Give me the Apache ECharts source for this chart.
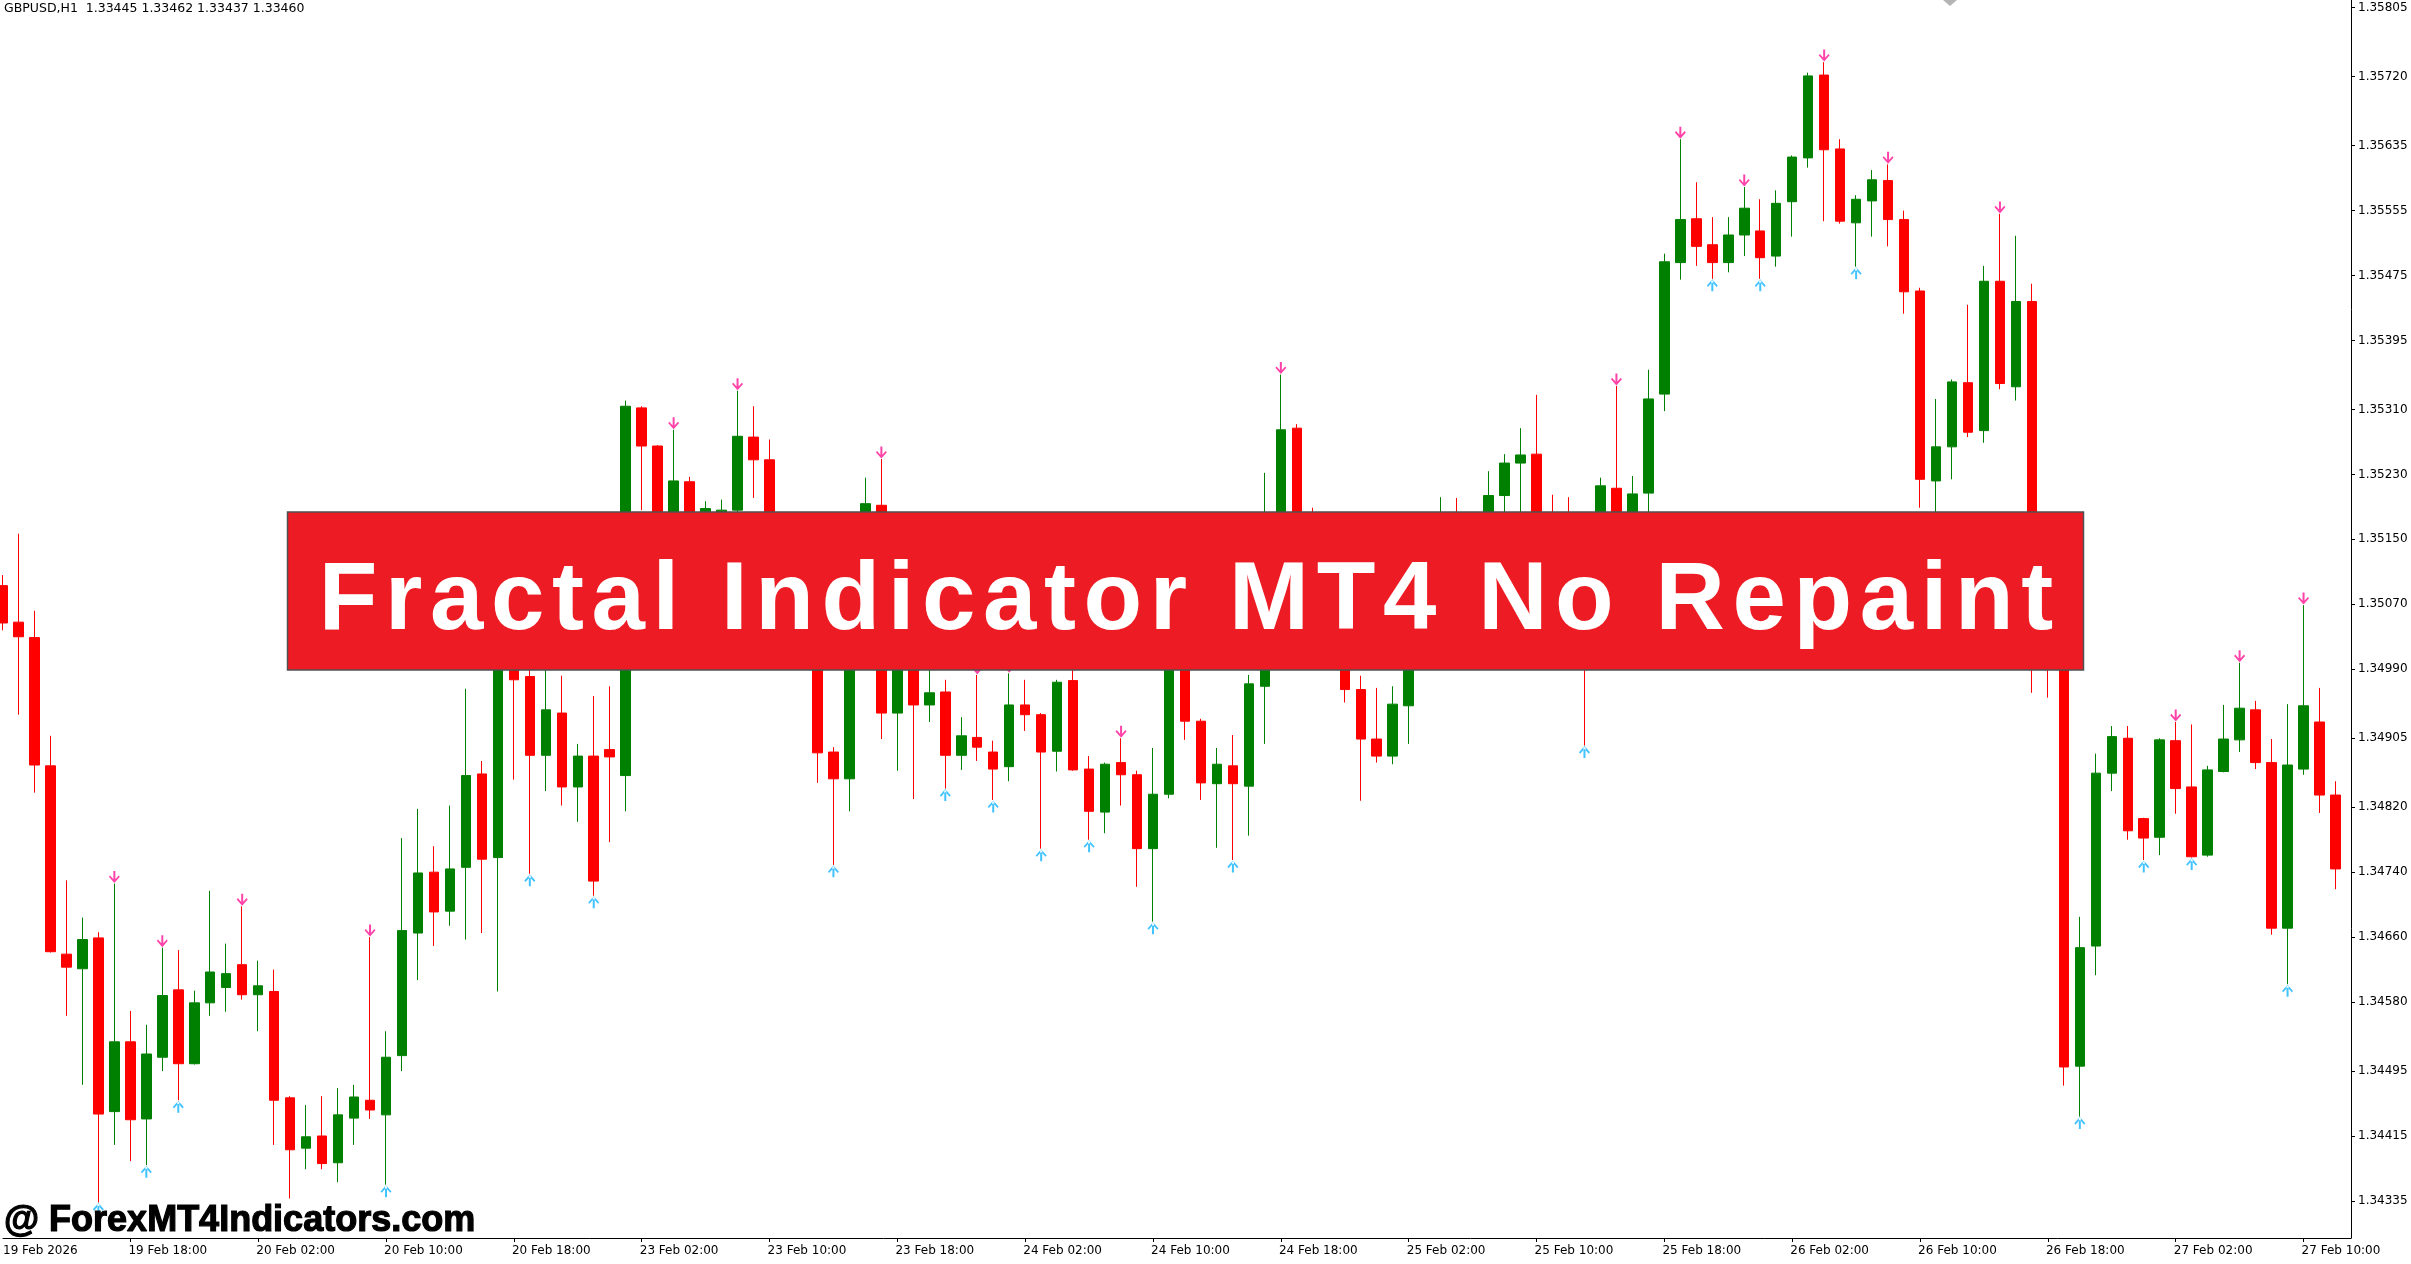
<!DOCTYPE html>
<html>
<head>
<meta charset="utf-8">
<script src="https://cdn.jsdelivr.net/npm/echarts@6/dist/echarts.min.js"></script>
<style>
html,body{margin:0;padding:0;background:#ffffff;}
#chart{width:2411px;height:1264px;}
</style>
</head>
<body>
<div id="chart"></div>
<script>
// ---------------- DATA ----------------
const headerText = 'GBPUSD,H1  1.33445 1.33462 1.33437 1.33460';
const bannerText = 'Fractal Indicator MT4 No Repaint';
const watermarkText = '@ ForexMT4Indicators.com';

// bar index of each time label, and the labels
const tickBars = [0, 8, 16, 24, 32, 40, 48, 56, 64, 72, 80, 88, 96, 104, 112, 120, 128, 136, 144];
const tickLabels = ['19 Feb 2026', '19 Feb 18:00', '20 Feb 02:00', '20 Feb 10:00', '20 Feb 18:00',
  '23 Feb 02:00', '23 Feb 10:00', '23 Feb 18:00', '24 Feb 02:00', '24 Feb 10:00', '24 Feb 18:00',
  '25 Feb 02:00', '25 Feb 10:00', '25 Feb 18:00', '26 Feb 02:00', '26 Feb 10:00', '26 Feb 18:00',
  '27 Feb 02:00', '27 Feb 10:00'];

// price scale labels, top to bottom
const priceLabels = ['1.35805', '1.35720', '1.35635', '1.35555', '1.35475', '1.35395', '1.35310',
  '1.35230', '1.35150', '1.35070', '1.34990', '1.34905', '1.34820', '1.34740', '1.34660', '1.34580',
  '1.34495', '1.34415', '1.34335'];

const opens = [1.35093,1.35048,1.35029,1.34871,1.34639,1.34621,1.34659,1.34445,1.34531,1.34436,
  1.34512,1.34595,1.34504,1.34579,1.34598,1.34626,1.34589,1.34593,1.34462,1.34400,
  1.34415,1.34382,1.34437,1.34459,1.34441,1.34514,1.34665,1.34740,1.34692,1.34746,
  1.34861,1.34758,1.35075,1.34981,1.34884,1.34936,1.34845,1.34883,1.34891,1.34859,
  1.35312,1.35265,1.35125,1.35221,1.35149,1.35174,1.35186,1.35276,1.35248,1.35125,
  1.35075,1.35100,1.34888,1.34855,1.35075,1.35192,1.34936,1.35026,1.34946,1.34962,
  1.34884,1.34906,1.34888,1.34870,1.34946,1.34934,1.34889,1.34976,1.34867,1.34814,
  1.34875,1.34860,1.34769,1.34836,1.35051,1.34926,1.34849,1.34871,1.34846,1.34969,
  1.35125,1.35287,1.35149,1.35075,1.35026,1.34965,1.34904,1.34883,1.34945,1.35051,
  1.35112,1.35149,1.35125,1.35162,1.35204,1.35244,1.35255,1.35125,1.35075,1.35051,
  1.35026,1.35213,1.35125,1.35207,1.35329,1.35491,1.35545,1.35513,1.35491,1.35525,
  1.35530,1.35499,1.35566,1.35620,1.35722,1.35631,1.35540,1.35567,1.35592,1.35544,
  1.35456,1.35222,1.35264,1.35343,1.35284,1.35468,1.35338,1.35443,1.35075,1.35026,
  1.34501,1.34649,1.34862,1.34905,1.34806,1.34783,1.34902,1.34845,1.34761,1.34864,
  1.34903,1.34940,1.34875,1.34671,1.34867,1.34925,1.34835];

const closes = [1.35047,1.35030,1.34872,1.34642,1.34623,1.34657,1.34442,1.34531,1.34435,1.34516,
  1.34588,1.34504,1.34579,1.34617,1.34615,1.34589,1.34600,1.34459,1.34398,1.34414,
  1.34381,1.34441,1.34463,1.34447,1.34512,1.34668,1.34739,1.34691,1.34744,1.34859,
  1.34756,1.35075,1.34977,1.34884,1.34940,1.34845,1.34883,1.34729,1.34882,1.35314,
  1.35265,1.35125,1.35222,1.35149,1.35188,1.35186,1.35277,1.35248,1.35125,1.35075,
  1.35100,1.34887,1.34855,1.35075,1.35194,1.34936,1.35026,1.34946,1.34961,1.34884,
  1.34908,1.34894,1.34867,1.34946,1.34934,1.34888,1.34974,1.34866,1.34815,1.34873,
  1.34860,1.34769,1.34836,1.35051,1.34926,1.34850,1.34873,1.34849,1.34972,1.35125,
  1.35285,1.35149,1.35075,1.35026,1.34965,1.34904,1.34883,1.34947,1.35051,1.35112,
  1.35149,1.35125,1.35162,1.35204,1.35244,1.35254,1.35125,1.35075,1.35051,1.35026,
  1.35216,1.35125,1.35206,1.35323,1.35492,1.35544,1.35511,1.35491,1.35525,1.35558,
  1.35497,1.35564,1.35621,1.35721,1.35630,1.35542,1.35569,1.35593,1.35544,1.35455,
  1.35224,1.35264,1.35344,1.35282,1.35468,1.35342,1.35443,1.35075,1.35026,1.34500,
  1.34647,1.34862,1.34907,1.34791,1.34782,1.34903,1.34843,1.34759,1.34866,1.34904,
  1.34942,1.34875,1.34671,1.34872,1.34945,1.34835,1.34744];

const lows = [1.35038,1.34934,1.34838,1.34641,1.34563,1.34478,1.34333,1.34404,1.34384,1.34379,
  1.34495,1.34459,1.34503,1.34563,1.34568,1.34583,1.34544,1.34404,1.34338,1.34374,
  1.34374,1.34358,1.34404,1.34436,1.34355,1.34495,1.34607,1.34649,1.34674,1.34657,
  1.34665,1.34593,1.34854,1.34738,1.34840,1.34822,1.34802,1.34711,1.34777,1.34815,
  1.35186,1.35100,1.35088,1.35125,1.35131,1.35149,1.35168,1.35201,1.35075,1.35026,
  1.35014,1.34850,1.34749,1.34815,1.35051,1.34904,1.34865,1.34830,1.34925,1.34843,
  1.34866,1.34877,1.34829,1.34852,1.34914,1.34769,1.34864,1.34865,1.34780,1.34788,
  1.34822,1.34722,1.34679,1.34831,1.34903,1.34829,1.34770,1.34755,1.34785,1.34898,
  1.35100,1.35125,1.35051,1.35001,1.34949,1.34828,1.34875,1.34873,1.34898,1.35038,
  1.35088,1.35075,1.35100,1.35143,1.35174,1.35168,1.35100,1.35051,1.35026,1.34896,
  1.35014,1.35100,1.35112,1.35174,1.35308,1.35470,1.35487,1.35471,1.35479,1.35499,
  1.35471,1.35486,1.35523,1.35608,1.35542,1.35539,1.35486,1.35523,1.35511,1.35428,
  1.35189,1.35162,1.35224,1.35276,1.35269,1.35335,1.35321,1.34961,1.34955,1.34477,
  1.34439,1.34613,1.34840,1.34780,1.34755,1.34761,1.34812,1.34758,1.34759,1.34863,
  1.34888,1.34867,1.34663,1.34602,1.34860,1.34813,1.34719];

const highs = [1.35106,1.35157,1.35062,1.34908,1.34730,1.34684,1.34666,1.34726,1.34569,1.34552,
  1.34647,1.34644,1.34594,1.34717,1.34652,1.34698,1.34631,1.34620,1.34464,1.34453,
  1.34464,1.34474,1.34478,1.34660,1.34544,1.34782,1.34818,1.34772,1.34822,1.34966,
  1.34877,1.35088,1.35088,1.35014,1.35026,1.34982,1.34898,1.34957,1.34969,1.35321,
  1.35314,1.35266,1.35285,1.35227,1.35197,1.35199,1.35333,1.35314,1.35273,1.35149,
  1.35125,1.35125,1.34894,1.35088,1.35226,1.35249,1.35051,1.35051,1.35001,1.34977,
  1.34931,1.34983,1.34902,1.34985,1.34977,1.34936,1.34977,1.35001,1.34883,1.34875,
  1.34905,1.34865,1.34893,1.35075,1.35075,1.34929,1.34893,1.34909,1.34983,1.35232,
  1.35353,1.35292,1.35189,1.35100,1.35051,1.34982,1.34967,1.34969,1.35075,1.35137,
  1.35202,1.35201,1.35180,1.35234,1.35255,1.35287,1.35328,1.35205,1.35202,1.35075,
  1.35226,1.35339,1.35228,1.35359,1.35502,1.35643,1.35590,1.35547,1.35547,1.35584,
  1.35569,1.35580,1.35623,1.35725,1.35738,1.35643,1.35574,1.35605,1.35612,1.35555,
  1.35460,1.35323,1.35347,1.35439,1.35487,1.35551,1.35524,1.35465,1.35100,1.35038,
  1.34685,1.34886,1.34920,1.34920,1.34807,1.34905,1.34925,1.34922,1.34871,1.34946,
  1.34998,1.34951,1.34904,1.34947,1.35069,1.34967,1.34852];

// bars carrying a fractal marker
const fractalDownBars = [7, 10, 15, 23, 42, 46, 55, 61, 63, 70, 80, 101, 105, 109, 114, 118, 125, 136, 140, 144];
const fractalUpBars = [6, 9, 11, 24, 33, 37, 52, 59, 62, 65, 68, 72, 77, 99, 107, 110, 116, 130, 134, 137, 143];

// ---------------- CHART ----------------
const chart = echarts.init(document.getElementById('chart'), null, {renderer: 'canvas'});

const candleData = opens.map((o, i) => [i, o, closes[i], lows[i], highs[i]]);
const downData = fractalDownBars.map(i => [i, highs[i]]);
const upData = fractalUpBars.map(i => [i, lows[i]]);

const xMin = 0.03125, xMax = 146.97;
const yMin = 1.342893, yMax = 1.358145;

const pricePos = priceLabels.map(s => parseFloat(s));
const xLabelPos = tickBars.map(b => Math.max(b - 0.12, xMin));

function nearestIndex(arr, v) {
  let best = 0, bd = Infinity;
  arr.forEach((a, k) => { const d = Math.abs(a - v); if (d < bd) { bd = d; best = k; } });
  return best;
}

const downPath = 'path://M4.5,0 L6.5,0 L6.5,10 L4.5,10 Z M0,5.2 L1.2,4 L5.5,8.4 L9.8,4 L11,5.2 L5.5,11 Z';
const upPath = 'path://M4.5,1 L6.5,1 L6.5,11 L4.5,11 Z M0,5.8 L1.2,7 L5.5,2.6 L9.8,7 L11,5.8 L5.5,0 Z';

const richBanner = bannerText.split('').map(ch => '{c|' + ch + '}').join('');

const option = {
  animation: false,
  backgroundColor: '#ffffff',
  grid: {left: 0, right: 60, top: 0, bottom: 26, containLabel: false},
  xAxis: {
    type: 'value', min: xMin, max: xMax,
    axisLine: {show: true, onZero: false, lineStyle: {color: '#000000', width: 1}},
    splitLine: {show: false},
    axisTick: {show: true, customValues: tickBars.slice(1), length: 4, lineStyle: {color: '#000000'}},
    axisLabel: {
      customValues: xLabelPos,
      formatter: v => tickLabels[nearestIndex(xLabelPos, v)],
      align: 'left', margin: 7, fontSize: 12, color: '#000000',
      fontFamily: 'DejaVu Sans'
    }
  },
  yAxis: {
    type: 'value', position: 'right', min: yMin, max: yMax, scale: true,
    axisLine: {show: true, onZero: false, lineStyle: {color: '#000000', width: 1}},
    splitLine: {show: false},
    axisTick: {show: true, customValues: pricePos, length: 4, lineStyle: {color: '#000000'}},
    axisLabel: {
      customValues: pricePos,
      formatter: v => priceLabels[nearestIndex(pricePos, v)],
      margin: 7, fontSize: 12, color: '#000000', fontFamily: 'DejaVu Sans',
      padding: [6, 0, 0, 0]
    }
  },
  series: [
    {
      type: 'candlestick',
      data: candleData,
      encode: {x: 0, y: [1, 2, 3, 4]},
      barWidth: 10,
      itemStyle: {
        color: '#008000', color0: '#ff0000',
        borderColor: '#008000', borderColor0: '#ff0000', borderWidth: 1
      },
      z: 2
    },
    {
      type: 'scatter', data: downData,
      symbol: downPath, symbolSize: [11, 12], symbolOffset: [0, -6.5],
      itemStyle: {color: '#ff1493'}, z: 3, silent: true
    },
    {
      type: 'scatter', data: upData,
      symbol: upPath, symbolSize: [11, 12], symbolOffset: [0, 6.5],
      itemStyle: {color: '#12b4ff'}, z: 3, silent: true
    }
  ],
  graphic: [
    {
      type: 'text', x: 4, y: 9, z: 10,
      style: {text: headerText, fontSize: 12.5, fontFamily: 'DejaVu Sans', fill: '#000000', align: 'left', verticalAlign: 'middle'}
    },
    {
      type: 'polygon', z: 10,
      shape: {points: [[1943, 0], [1957, 0], [1950, 6]]},
      style: {fill: '#b4b4b4'}
    },
    {
      type: 'rect', z: 20,
      shape: {x: 287.5, y: 512, width: 1796, height: 158},
      style: {fill: '#ed1c24', stroke: '#505050', lineWidth: 1.5}
    },
    {
      type: 'text', x: 1186, y: 603, z: 21,
      style: {
        text: richBanner, align: 'center', verticalAlign: 'middle',
        rich: {c: {fontSize: 96, fontWeight: 'bold', fontFamily: 'Liberation Sans', fill: '#ffffff', padding: [0, 3.8, 0, 3.8]}}
      }
    },
    {
      type: 'text', x: 4, y: 1221, z: 21,
      style: {text: watermarkText, fontSize: 36, fontWeight: 'bold', fontFamily: 'Liberation Sans', fill: '#000000',
        stroke: '#000000', lineWidth: 1.2, align: 'left', verticalAlign: 'middle'}
    }
  ]
};
chart.setOption(option);
</script>
</body>
</html>
